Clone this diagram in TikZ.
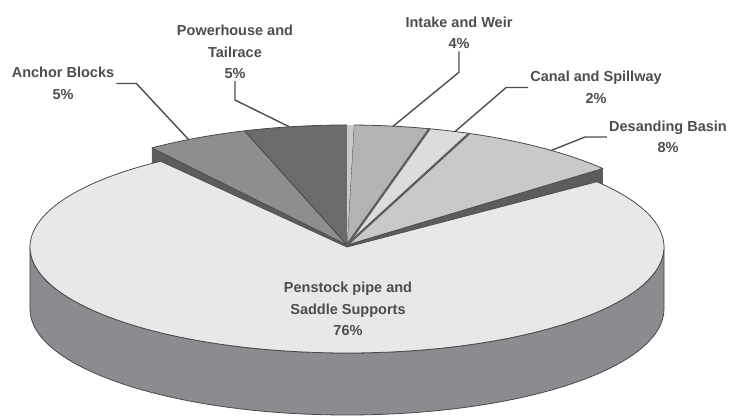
\documentclass[tikz,border=0pt]{standalone}
\usepackage{fontspec}
\setmainfont{Liberation Sans}
\usepackage{xcolor}
\usetikzlibrary{calc}
\definecolor{topBig}{HTML}{E8E8E8}
\definecolor{wallBig}{HTML}{8B8C8F}
\definecolor{cPower}{HTML}{6B6B6D}
\definecolor{cAnchor}{HTML}{8E8E90}
\definecolor{cIntake}{HTML}{B3B3B3}
\definecolor{cCanal}{HTML}{DCDCDC}
\definecolor{cDesand}{HTML}{C9C9C9}
\definecolor{edgeGray}{HTML}{4A4A4C}
\definecolor{sideDark}{HTML}{5C5C5E}
\definecolor{labelGray}{HTML}{4D4D4D}

\begin{document}
\begin{tikzpicture}[x=1pt,y=1pt,
        lbl/.style={align=center,font=\fontsize{14.5}{21.5}\selectfont\bfseries,text=labelGray,inner sep=2pt},
        leader/.style={draw=labelGray,line width=1.4pt},
        slice/.style={draw=edgeGray,line width=0.8pt,line join=round}]
        \useasboundingbox (-347,-170) rectangle (385,247);
        % radii of the big slice and of the pulled out small ones
        \def\rxB{317}
        \def\ryB{106}
        \def\dB{62}
        \def\rxS{332}
        \def\ryS{120}
        \def\yS{2}
        \coordinate (cB) at (0,0);
        \coordinate (cS) at (0,\yS);
        % side faces of the small slices
        \fill[sideDark] (cS) -- ({\rxS*cos(39.6)},{\yS+\ryS*sin(39.6)}) -- ++(0,-17) -- ($(cS)+(0,-17)$) -- cycle;
        \fill[sideDark] (cS) -- ({\rxS*cos(126)},{\yS+\ryS*sin(126)}) -- ++(0,-17) -- ($(cS)+(0,-17)$) -- cycle;
        % tops of the small slices
        \foreach \ta/\tb/\col in {90/108/cPower,108/126/cAnchor,75.6/88.8/cIntake,68.4/75.6/cCanal,39.6/68.4/cDesand}
            \filldraw[slice,fill=\col] (cS) -- ({\rxS*cos(\ta)},{\yS+\ryS*sin(\ta)}) arc[start angle=\ta,end angle=\tb,x radius=\rxS,y radius=\ryS] -- cycle;
        \fill[cDesand] (cS) -- ({\rxS*cos(88.8)},{\yS+\ryS*sin(88.8)}) arc[start angle=88.8,end angle=90,x radius=\rxS,y radius=\ryS] -- cycle;
        \foreach \t in {75.6,68.4}
            \draw[sideDark,line width=2.2pt] (cS) -- ({\rxS*cos(\t)},{\yS+\ryS*sin(\t)});
        % big slice: wall, then top
        \filldraw[slice,fill=wallBig] (\rxB,0) arc[start angle=0,end angle=-180,x radius=\rxB,y radius=\ryB] -- ++(0,-\dB) arc[start angle=-180,end angle=0,x radius=\rxB,y radius=\ryB] -- cycle;
        \filldraw[slice,fill=topBig] (cB) -- ({\rxB*cos(38)},{\ryB*sin(38)}) arc[start angle=38,end angle=-234,x radius=\rxB,y radius=\ryB] -- cycle;
        % labels
        \node[lbl] (powerLbl) at (-112,195) {Powerhouse and\\Tailrace\\5\%};
        \node[lbl] (anchorLbl) at (-284,163.5) {Anchor Blocks\\5\%};
        \node[lbl] (intakeLbl) at (112,214) {Intake and Weir\\4\%};
        \node[lbl] (canalLbl) at (249,159.5) {Canal and Spillway\\2\%};
        \node[lbl] (desandLbl) at (321,110) {Desanding Basin\\8\%};
        \node[lbl] (penLbl) at (1,-62) {Penstock pipe and\\Saddle Supports\\76\%};
        % leader lines
        \coordinate (pPower) at ({\rxS*cos(100)},{\yS+\ryS*sin(100)});
        \coordinate (pAnchor) at ({\rxS*cos(118.5)},{\yS+\ryS*sin(118.5)});
        \coordinate (pIntake) at ({\rxS*cos(82)},{\yS+\ryS*sin(82)});
        \coordinate (pCanal) at ({\rxS*cos(71)},{\yS+\ryS*sin(71)});
        \coordinate (pDesand) at ({\rxS*cos(52)},{\yS+\ryS*sin(52)});
        \draw[leader] (anchorLbl.east) -- ++(20,0) -- (pAnchor);
        \draw[leader] (powerLbl.south) -- ++(0,-19) -- (pPower);
        \draw[leader] (intakeLbl.south) -- ++(0,-21) -- (pIntake);
        \draw[leader] (canalLbl.west) -- ++(-22,0) -- (pCanal);
        \draw[leader] (desandLbl.west) -- ++(-22,0) -- (pDesand);
    \end{tikzpicture}
\end{document}
